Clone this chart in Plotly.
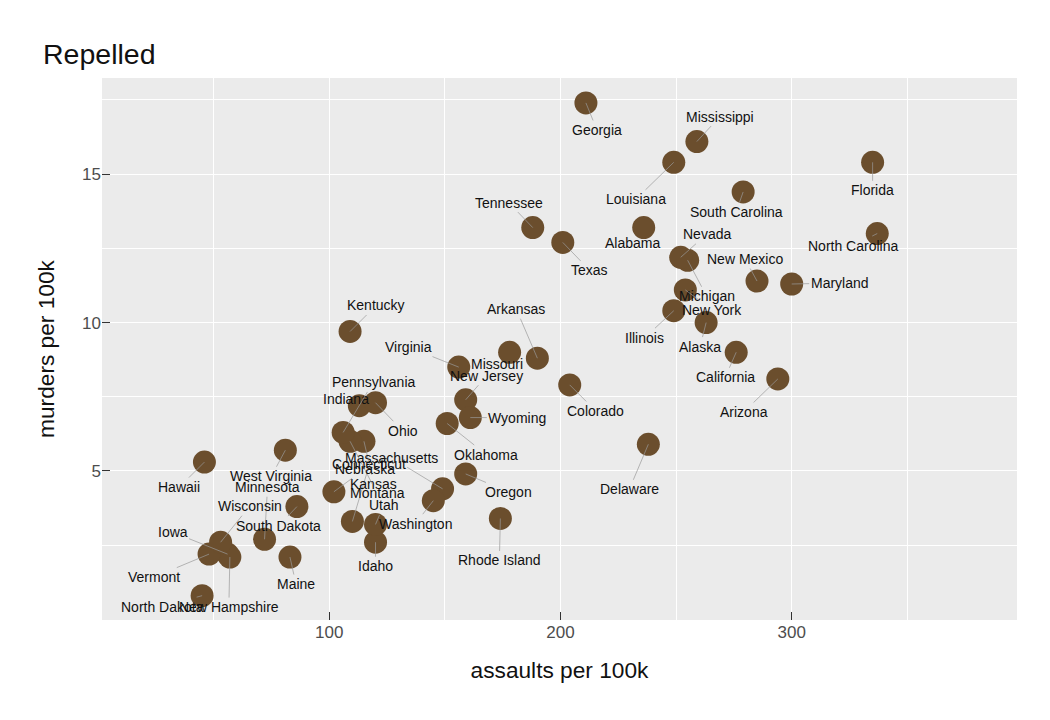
"""Repelled: USArrests murders vs assaults with repelled state labels."""

import math

import plotly.graph_objects as go

states = [
    "Alabama", "Alaska", "Arizona", "Arkansas", "California", "Colorado",
    "Connecticut", "Delaware", "Florida", "Georgia", "Hawaii", "Idaho",
    "Illinois", "Indiana", "Iowa", "Kansas", "Kentucky", "Louisiana", "Maine",
    "Maryland", "Massachusetts", "Michigan", "Minnesota", "Mississippi",
    "Missouri", "Montana", "Nebraska", "Nevada", "New Hampshire", "New Jersey",
    "New Mexico", "New York", "North Carolina", "North Dakota", "Ohio",
    "Oklahoma", "Oregon", "Pennsylvania", "Rhode Island", "South Carolina",
    "South Dakota", "Tennessee", "Texas", "Utah", "Vermont", "Virginia",
    "Washington", "West Virginia", "Wisconsin", "Wyoming",
]
assault = [
    236, 263, 294, 190, 276, 204, 110, 238, 335, 211, 46, 120, 249, 113, 56,
    115, 109, 249, 83, 300, 149, 255, 72, 259, 178, 109, 102, 252, 57, 159,
    285, 254, 337, 45, 120, 151, 159, 106, 174, 279, 86, 188, 201, 120, 48,
    156, 145, 81, 53, 161,
]
murder = [
    13.2, 10.0, 8.1, 8.8, 9.0, 7.9, 3.3, 5.9, 15.4, 17.4, 5.3, 2.6, 10.4, 7.2,
    2.2, 6.0, 9.7, 15.4, 2.1, 11.3, 4.4, 12.1, 2.7, 16.1, 9.0, 6.0, 4.3, 12.2,
    2.1, 7.4, 11.4, 11.1, 13.0, 0.8, 7.3, 6.6, 4.9, 6.3, 3.4, 14.4, 3.8, 13.2,
    12.7, 3.2, 2.2, 8.5, 4.0, 5.7, 2.6, 6.8,
]
x_ticks = [100, 200, 300]
y_ticks = [5, 10, 15]

# label offsets from each point, in screen pixels (right, down) -- the repel result
label_offsets = {
    "Alabama": (-11, 15), "Alaska": (-6, 24), "Arizona": (-34, 33),
    "Arkansas": (-21, -49), "California": (-11, 25), "Colorado": (26, 26),
    "Connecticut": (17, -57), "Delaware": (-19, 45), "Florida": (0, 28),
    "Georgia": (11, 27), "Hawaii": (-25, 25), "Idaho": (0, 24),
    "Illinois": (-29, 27), "Indiana": (-13, -7), "Iowa": (-55, -22),
    "Kansas": (10, 43), "Kentucky": (26, -26), "Louisiana": (-38, 37),
    "Maine": (6, 27), "Maryland": (48, -1), "Massachusetts": (-51, -31),
    "Michigan": (19, 36), "Minnesota": (3, -52), "Mississippi": (23, -25),
    "Missouri": (-13, 12), "Montana": (27, 52), "Nebraska": (31, -23),
    "Nevada": (26, -23), "New Hampshire": (-1, 50), "New Jersey": (21, -24),
    "New Mexico": (-12, -22), "New York": (27, 20), "North Carolina": (-24, 12),
    "North Dakota": (-40, 11), "Ohio": (27, 28), "Oklahoma": (39, 31),
    "Oregon": (43, 18), "Pennsylvania": (30, -50), "Rhode Island": (-1, 42),
    "South Carolina": (-7, 20), "South Dakota": (-18, 19), "Tennessee": (-24, -25),
    "Texas": (27, 28), "Utah": (8, -19), "Vermont": (-55, 23),
    "Virginia": (-50, -20), "Washington": (-18, 23), "West Virginia": (-14, 26),
    "Wisconsin": (29, -36), "Wyoming": (47, 0),
}

FONT = "Liberation Sans, Arial, Helvetica, sans-serif"

fig = go.Figure()
fig.add_trace(
    go.Scatter(
        x=assault,
        y=murder,
        mode="markers",
        marker=dict(size=23, color="#6B4E2D", line=dict(width=0)),
        text=states,
        hovertemplate="%{text}<br>assault: %{x}<br>murder: %{y}<extra></extra>",
    )
)

# repelled text labels with thin leader segments
for name, ax_, ay_ in zip(states, assault, murder):
    dx, dy = label_offsets[name]
    near = math.hypot(dx, dy) < 19
    fig.add_annotation(
        x=ax_, y=ay_, text=name,
        showarrow=not near,
        ax=dx, ay=dy,
        xshift=dx if near else 0,
        yshift=-dy if near else 0,
        arrowhead=0, arrowwidth=0.7, arrowcolor="#9a9a9a", standoff=0,
        font=dict(family=FONT, size=14, color="#111111"),
    )

# page body adds an 8px offset, so the margins are shifted to compensate
fig.update_layout(
    width=1050,
    height=720,
    margin=dict(l=94, r=41, t=70, b=108),
    paper_bgcolor="white",
    plot_bgcolor="#EBEBEB",
    showlegend=False,
    font=dict(family=FONT),
    title=dict(
        text="Repelled",
        x=35 / 1050, xref="container", xanchor="left",
        y=1 - 46 / 720, yref="container", yanchor="middle",
        font=dict(size=28.5, color="#111111"),
    ),
)
fig.update_xaxes(
    range=[1.7, 397.45],
    tickvals=x_ticks,
    ticks="inside", ticklen=8, tickwidth=1.2, tickcolor="#333333",
    tickfont=dict(size=17, color="#4D4D4D"),
    showgrid=True, gridcolor="white", gridwidth=1.3,
    minor=dict(dtick=50, tick0=0, showgrid=True, gridcolor="white", gridwidth=0.6, ticks=""),
    zeroline=False, showline=False,
    title=dict(text="assaults per 100k", font=dict(size=22.7, color="#111111"), standoff=21),
)
fig.update_yaxes(
    range=[-0.02, 18.24],
    tickvals=y_ticks,
    ticks="inside", ticklen=8, tickwidth=1.2, tickcolor="#333333",
    tickfont=dict(size=17, color="#4D4D4D"),
    showgrid=True, gridcolor="white", gridwidth=1.3,
    minor=dict(dtick=2.5, tick0=0, showgrid=True, gridcolor="white", gridwidth=0.6, ticks=""),
    zeroline=False, showline=False,
    title=dict(text="murders per 100k", font=dict(size=22.7, color="#111111"), standoff=21),
)

fig.write_html("out.html")
